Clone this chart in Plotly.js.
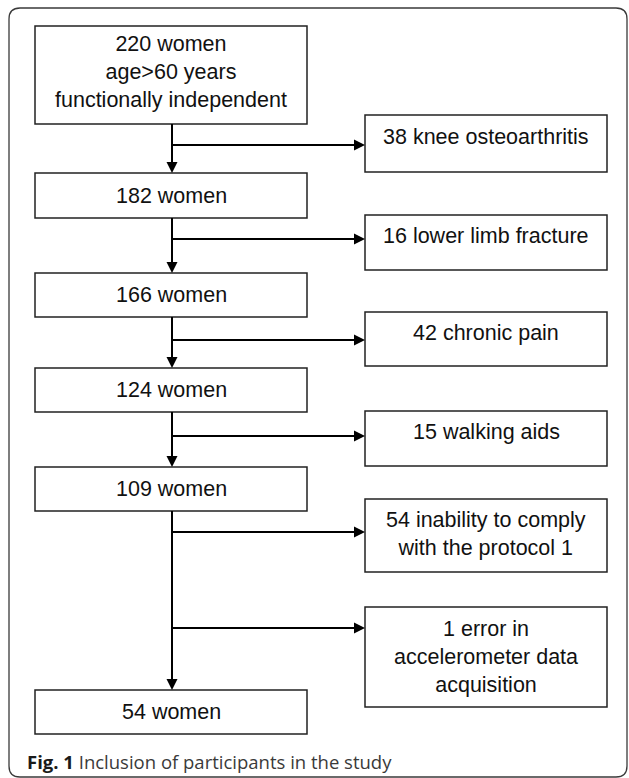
<!DOCTYPE html>
<html>
<head>
<meta charset="utf-8">
<script src="https://cdn.plot.ly/plotly-3.0.1.min.js"></script>
<style>html,body{margin:0;padding:0;background:#fff;}#chart{width:629px;height:778px;}</style>
</head>
<body>
<div id="chart"></div>
<script>
// ---- data ----
const mainCounts = [220, 182, 166, 124, 109, 54];
const mainExtra = ["<br>age&gt;60 years<br>functionally independent", "", "", "", "", ""];
const exclCounts = [38, 16, 42, 15, 54, 1];
const exclReasons = [
  "knee osteoarthritis",
  "lower limb fracture",
  "chronic pain",
  "walking aids",
  "inability to comply<br>with the protocol 1",
  "error in<br>accelerometer data<br>acquisition"
];
const captionBold = "Fig. 1";
const captionText = "Inclusion of participants in the study";

// ---- layout geometry (pixels, y downward) ----
const mainX = [35, 307];
const spineX = 172;
const mainBoxY = [[26,124],[173,218],[273,317],[368,412],[467,511],[690,734]];
const mainTextY = [72, 195.5, 295, 390, 489, 712];
const exclX = [365, 607];
const exclBoxY = [[115,172],[215,270],[312,366],[411,466],[499,572],[607,707]];
const exclTextY = [137, 236, 333, 432, 534, 657];
const branchY = [145, 239, 340, 436, 532, 628];
const arrowLen = 11, arrowHalf = 5.5;

const boxLine = {color: '#222', width: 1.5};
const flowLine = {color: '#000', width: 2};
const shapes = [];
const annotations = [];

// outer frame (rounded)
const fx0 = 9, fy0 = 8, fx1 = 627, fy1 = 777, r = 11;
shapes.push({type:'path', xref:'x', yref:'y', line:{color:'#3a3a3a', width:1.3}, fillcolor:'rgba(0,0,0,0)',
  path:`M ${fx0+r},${fy0} L ${fx1-r},${fy0} Q ${fx1},${fy0} ${fx1},${fy0+r} L ${fx1},${fy1-r} Q ${fx1},${fy1} ${fx1-r},${fy1} L ${fx0+r},${fy1} Q ${fx0},${fy1} ${fx0},${fy1-r} L ${fx0},${fy0+r} Q ${fx0},${fy0} ${fx0+r},${fy0} Z`});

const txtFont = {family: 'Liberation Sans, Arial', size: 21.5, color: '#111'};

// main boxes
mainCounts.forEach((n, i) => {
  shapes.push({type:'rect', xref:'x', yref:'y', x0:mainX[0], x1:mainX[1], y0:mainBoxY[i][0], y1:mainBoxY[i][1], line:boxLine, fillcolor:'#fff'});
  annotations.push({xref:'x', yref:'y', x:(mainX[0]+mainX[1])/2, y:mainTextY[i], xanchor:'center', yanchor:'middle',
    text: n + ' women' + mainExtra[i], showarrow:false, font:txtFont, align:'center'});
});

// spine arrows
for (let i = 0; i < mainCounts.length - 1; i++) {
  const yStart = mainBoxY[i][1], yEnd = mainBoxY[i+1][0];
  shapes.push({type:'line', xref:'x', yref:'y', x0:spineX, x1:spineX, y0:yStart, y1:yEnd - arrowLen + 1, line:flowLine});
  shapes.push({type:'path', xref:'x', yref:'y', line:{width:0}, fillcolor:'#000',
    path:`M ${spineX-arrowHalf},${yEnd-arrowLen} L ${spineX+arrowHalf},${yEnd-arrowLen} L ${spineX},${yEnd} Z`});
}

// exclusion boxes and branches
exclCounts.forEach((n, i) => {
  shapes.push({type:'rect', xref:'x', yref:'y', x0:exclX[0], x1:exclX[1], y0:exclBoxY[i][0], y1:exclBoxY[i][1], line:boxLine, fillcolor:'#fff'});
  annotations.push({xref:'x', yref:'y', x:(exclX[0]+exclX[1])/2, y:exclTextY[i], xanchor:'center', yanchor:'middle',
    text: n + ' ' + exclReasons[i], showarrow:false, font:txtFont, align:'center'});
  const by = branchY[i];
  shapes.push({type:'line', xref:'x', yref:'y', x0:spineX, x1:exclX[0]-arrowLen+1, y0:by, y1:by, line:flowLine});
  shapes.push({type:'path', xref:'x', yref:'y', line:{width:0}, fillcolor:'#000',
    path:`M ${exclX[0]-arrowLen},${by-arrowHalf} L ${exclX[0]-arrowLen},${by+arrowHalf} L ${exclX[0]},${by} Z`});
});

// caption
annotations.push({xref:'x', yref:'y', x:25, y:761, xanchor:'left', yanchor:'middle', showarrow:false,
  text:'<b><span style="color:#1a1a1a">' + captionBold + '</span></b> ' + captionText,
  font:{family:'Open Sans', size:18.5, color:'#3a3a3a'}});

const layout = {
  width: 629, height: 778,
  margin: {l:0, r:0, t:0, b:0, pad:0},
  paper_bgcolor: '#fff', plot_bgcolor: '#fff',
  showlegend: false,
  xaxis: {range:[0,629], visible:false, fixedrange:true},
  yaxis: {range:[778,0], visible:false, fixedrange:true},
  shapes: shapes,
  annotations: annotations
};

Plotly.newPlot('chart', [{x:[], y:[], type:'scatter', mode:'markers', hoverinfo:'skip'}], layout, {staticPlot:true, displayModeBar:false});
</script>
</body>
</html>
